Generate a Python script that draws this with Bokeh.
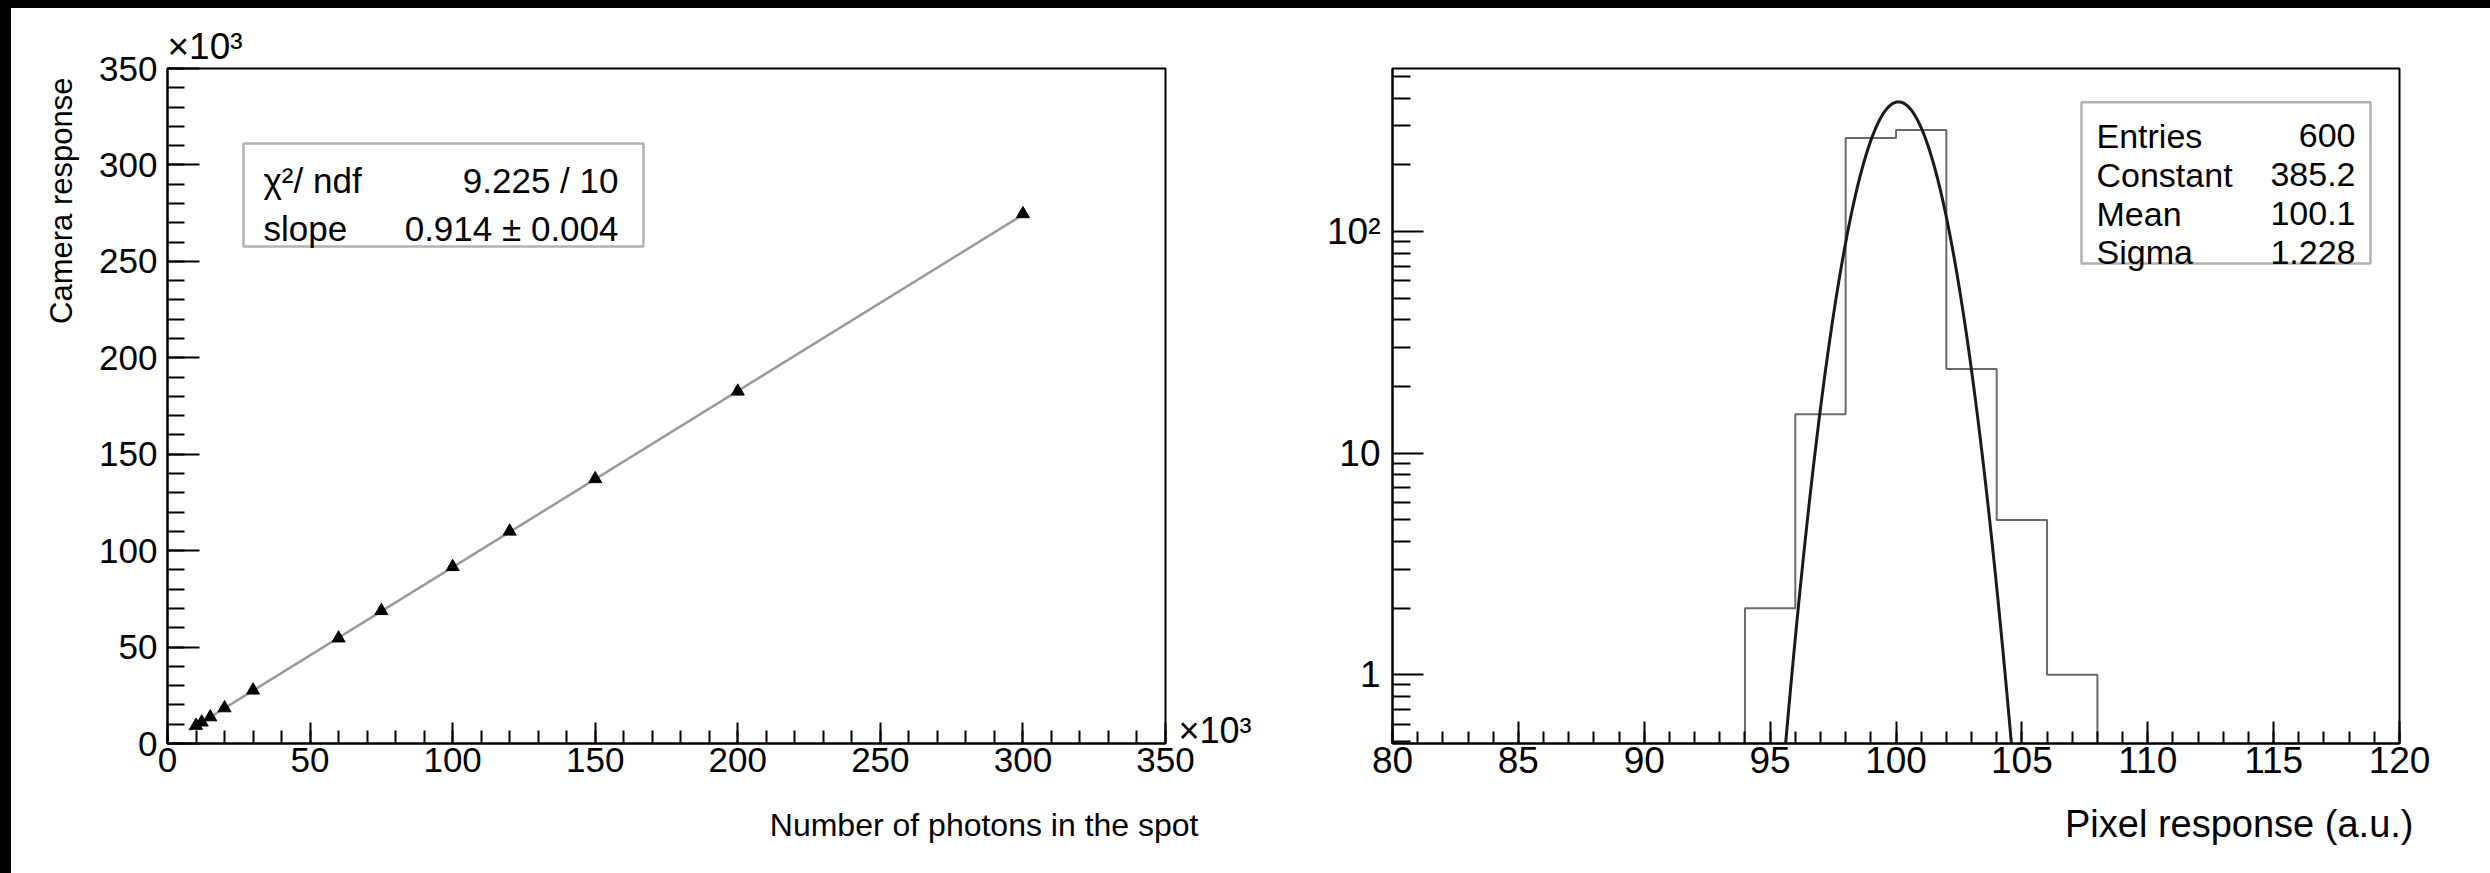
import numpy as np
from bokeh.plotting import figure
from bokeh.layouts import row
from bokeh.models import (Range1d, FixedTicker, Label, BoxAnnotation, Title,
                          LinearAxis)
from bokeh.embed import file_html
from bokeh.resources import INLINE

# ---------------- data ----------------
# Linearity scan: photons in the spot vs camera response (units of 10^3)
photons = [10, 12, 15, 20, 30, 60, 75, 100, 120, 150, 200, 300]
response = [9.3, 11.0, 13.7, 18.4, 27.6, 54.6, 68.8, 91.6, 110.0, 137.2, 182.6, 274.6]
fit_slope = 0.914
fit_range = [7.5, 300]
lin_ticks = [0, 50, 100, 150, 200, 250, 300, 350]
lin_minor = list(range(0, 351, 10))

# Pixel response histogram (bins of 2 a.u.) and its Gaussian fit
bin_edges = [94, 96, 98, 100, 102, 104, 106, 108]
bin_counts = [2, 15, 265, 288, 24, 5, 1]
gaus_const = 385.2
gaus_mean = 100.1
gaus_sigma = 1.228
hist_xticks = [80, 85, 90, 95, 100, 105, 110, 115, 120]
hist_xminor = list(range(80, 121))
log_ticks = [1, 10, 100]
log_minor = [0.5, 0.6, 0.7, 0.8, 0.9, 2, 3, 4, 5, 6, 7, 8, 9,
             20, 30, 40, 50, 60, 70, 80, 90, 200, 300, 400, 500]
log_labels = {1: "1", 10: "10", 100: "10²"}

left_stats = [("χ²/ ndf", "9.225 / 10"), ("slope", "0.914 ± 0.004")]
right_stats = [("Entries", "600"), ("Constant", "385.2"),
               ("Mean", "100.1"), ("Sigma", "1.228")]

FONT = "Liberation Sans"

# ---------------- page geometry (pixels) ----------------
PAGE_LEFT, PAGE_TOP = 11, 8
W1, W2, H = 1269, 1210, 865
# frame edges in page pixels
L_FRAME = dict(left=167, right=1165, top=68, bottom=743)
R_FRAME = dict(left=1392, right=2399, top=68, bottom=750)
L_XR, L_YR = (0, 350), (0, 350)
R_XR, R_YR = (80, 120), (0.49, 545)


def left_xy(px, py):
    f = L_FRAME
    x = L_XR[0] + (px - f["left"]) / (f["right"] - f["left"]) * (L_XR[1] - L_XR[0])
    y = L_YR[0] + (f["bottom"] - py) / (f["bottom"] - f["top"]) * (L_YR[1] - L_YR[0])
    return x, y


def right_xy(px, py):
    f = R_FRAME
    x = R_XR[0] + (px - f["left"]) / (f["right"] - f["left"]) * (R_XR[1] - R_XR[0])
    l0, l1 = np.log10(R_YR[0]), np.log10(R_YR[1])
    y = 10 ** (l0 + (f["bottom"] - py) / (f["bottom"] - f["top"]) * (l1 - l0))
    return x, y


def style_axis(ax, size, major_in, minor_in, standoff):
    ax.axis_line_color = "black"
    ax.axis_line_width = 2
    ax.major_tick_line_color = "black"
    ax.major_tick_line_width = 2
    ax.minor_tick_line_color = "black"
    ax.minor_tick_line_width = 2
    ax.major_tick_in = major_in
    ax.major_tick_out = 0
    ax.minor_tick_in = minor_in
    ax.minor_tick_out = 0
    ax.major_label_text_font = FONT
    ax.major_label_text_font_size = f"{size}px"
    ax.major_label_text_color = "black"
    ax.major_label_standoff = standoff


def add_text(p, conv, px, py, text, size, align="left"):
    x, y = conv(px, py)
    p.add_layout(Label(x=x, y=y, text=text, text_font=FONT, text_font_size=f"{size}px",
                       text_color="black", text_align=align, text_baseline="alphabetic"))


def add_box(p, conv, x0, y0, x1, y1):
    a, b = conv(x0, y0)
    c, d = conv(x1, y1)
    p.add_layout(BoxAnnotation(left=a, right=c, top=b, bottom=d, fill_color="white",
                               fill_alpha=1.0, line_color="black", line_width=2.5))


def side_title(p, text, place, size, align, offset, standoff):
    p.add_layout(Title(text=text, align=align, offset=offset, standoff=standoff,
                       text_font=FONT, text_font_size=f"{size}px",
                       text_font_style="normal", text_color="black"), place)


def exponent_axis(tick, standoff):
    # bare helper axis carrying the "x10^3" multiplier as its only label
    ax = LinearAxis(ticker=FixedTicker(ticks=[tick]),
                    major_label_overrides={tick: "×10³"})
    ax.axis_line_color = None
    ax.major_tick_line_color = None
    ax.minor_tick_line_color = None
    ax.major_label_text_font = FONT
    ax.major_label_text_font_size = "36px"
    ax.major_label_text_color = "black"
    ax.major_label_standoff = standoff
    return ax


# ---------------- left: linearity ----------------
p1 = figure(width=W1, height=H, x_range=Range1d(*L_XR), y_range=Range1d(*L_YR),
            output_backend="svg", toolbar_location=None,
            min_border_left=L_FRAME["left"] - PAGE_LEFT,
            min_border_right=PAGE_LEFT + W1 - L_FRAME["right"],
            min_border_top=L_FRAME["top"] - PAGE_TOP,
            min_border_bottom=PAGE_TOP + H - L_FRAME["bottom"])
p1.outline_line_color = "black"
p1.outline_line_width = 2
p1.xgrid.visible = False
p1.ygrid.visible = False
p1.background_fill_color = "white"
p1.border_fill_color = "white"

p1.xaxis.ticker = FixedTicker(ticks=lin_ticks, minor_ticks=lin_minor)
p1.yaxis.ticker = FixedTicker(ticks=lin_ticks, minor_ticks=lin_minor)
style_axis(p1.xaxis[0], 35, 21, 13, 4)
style_axis(p1.yaxis[0], 35, 32, 17, 10)

fit_x = np.array(fit_range, dtype=float)
p1.line(fit_x, fit_slope * fit_x, line_color="#9a9a9a", line_width=2.5)
p1.scatter(photons, response, marker="triangle", size=13, fill_color="black",
           line_color="black")

side_title(p1, "Camera response", "left", 31, "right", 9, 36)
side_title(p1, "Number of photons in the spot", "below", 32, "right", -33, 60)
side_title(p1, "×10³", "above", 37, "left", 0, 3)
p1.add_layout(exponent_axis(left_xy(0, 730)[1], 7), "right")

add_box(p1, left_xy, 243, 143, 643, 246)
for i, (name, val) in enumerate(left_stats):
    yb = 180 + 48 * i
    add_text(p1, left_xy, 263, yb, name, 35)
    add_text(p1, left_xy, 618, yb, val, 35, align="right")

# ---------------- right: pixel response histogram ----------------
p2 = figure(width=W2, height=H, x_range=Range1d(*R_XR), y_range=Range1d(*R_YR),
            y_axis_type="log", output_backend="svg", toolbar_location=None,
            min_border_left=R_FRAME["left"] - (PAGE_LEFT + W1),
            min_border_right=PAGE_LEFT + W1 + W2 - R_FRAME["right"],
            min_border_top=R_FRAME["top"] - PAGE_TOP,
            min_border_bottom=PAGE_TOP + H - R_FRAME["bottom"])
p2.outline_line_color = "black"
p2.outline_line_width = 2
p2.xgrid.visible = False
p2.ygrid.visible = False
p2.background_fill_color = "white"
p2.border_fill_color = "white"

p2.xaxis.ticker = FixedTicker(ticks=hist_xticks, minor_ticks=hist_xminor)
p2.yaxis.ticker = FixedTicker(ticks=log_ticks, minor_ticks=log_minor)
p2.yaxis.major_label_overrides = log_labels
style_axis(p2.xaxis[0], 37, 22, 12, 3)
style_axis(p2.yaxis[0], 37, 31, 18, 12)

# step outline of the histogram, dropping to the frame floor at both ends
floor = R_YR[0]
hx, hy = [bin_edges[0]], [floor]
for i, c in enumerate(bin_counts):
    hx += [bin_edges[i], bin_edges[i + 1]]
    hy += [c, c]
hx.append(bin_edges[-1])
hy.append(floor)
p2.line(hx, hy, line_color="#6a6a6a", line_width=2)

gx = np.linspace(gaus_mean - 5 * gaus_sigma, gaus_mean + 5 * gaus_sigma, 400)
gy = gaus_const * np.exp(-0.5 * ((gx - gaus_mean) / gaus_sigma) ** 2)
p2.line(gx, gy, line_color="#1a1a1a", line_width=3)

side_title(p2, "Pixel response (a.u.)", "below", 38, "right", -14, 50)

add_box(p2, right_xy, 2081, 102, 2370, 265)
for i, (name, val) in enumerate(right_stats):
    yb = 136 + 39.3 * i
    add_text(p2, right_xy, 2096, yb, name, 34)
    add_text(p2, right_xy, 2355, yb, val, 34, align="right")

layout = row(p1, p2, spacing=0)

html = file_html(layout, INLINE, title="Camera response")
# black bands along the top and left page edges, white elsewhere
body_css = ("margin:0;padding:%dpx 0 0 %dpx;min-height:100vh;box-sizing:border-box;"
            "background:linear-gradient(#000,#000) left top/100%% %dpx no-repeat,"
            "linear-gradient(#000,#000) left top/%dpx 100%% no-repeat,#ffffff;"
            % (PAGE_TOP, PAGE_LEFT, PAGE_TOP, PAGE_LEFT))
head_end = html.find("</head>")
body_at = html.find("<body", head_end)
body_end = html.find(">", body_at)
html = html[:body_at] + '<body style="%s">' % body_css + html[body_end + 1:]
open("out.html", "w").write(html)
